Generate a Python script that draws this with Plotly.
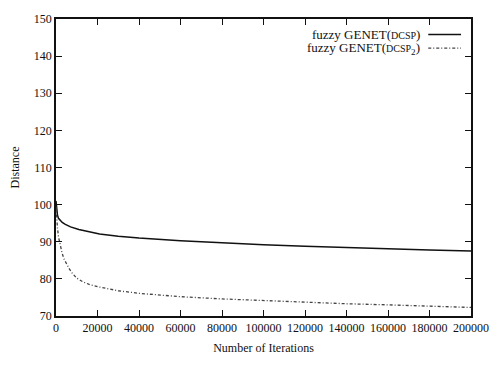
import plotly.graph_objects as go

# Convergence of the average distance over the run
iters_dcsp = [0, 300, 700, 1200, 2000, 3000, 4500, 7000, 11000, 16000, 21000, 30000,
              40000, 60000, 80000, 100000, 120000, 140000, 160000, 180000, 200000]
dist_dcsp = [101, 98.6, 97.2, 96.3, 95.7, 95.2, 94.7, 94.0, 93.3, 92.6, 92.1, 91.5,
             91.0, 90.3, 89.7, 89.2, 88.8, 88.4, 88.1, 87.8, 87.5]

iters_dcsp2 = [0, 300, 700, 1200, 2000, 3000, 4000, 5000, 6500, 8000, 10000, 13000,
               16000, 21000, 30000, 40000, 60000, 80000, 100000, 120000, 140000,
               160000, 180000, 200000]
dist_dcsp2 = [99.5, 96.5, 93.8, 91.3, 88.8, 86.8, 85.2, 84.0, 82.6, 81.4, 80.2, 79.2,
              78.5, 77.8, 76.8, 76.1, 75.2, 74.6, 74.1, 73.7, 73.3, 73.0, 72.6, 72.3]

x_ticks = [0, 20000, 40000, 60000, 80000, 100000, 120000, 140000, 160000, 180000, 200000]
y_ticks = [70, 80, 90, 100, 110, 120, 130, 140, 150]

legend_labels = ["fuzzy GENET(<span style='font-size:10px'>DCSP</span>)",
                 "fuzzy GENET(<span style='font-size:10px'>DCSP</span><sub>2</sub>)"]

FONT = "Liberation Serif, Times New Roman, serif"
INK = "#111111"

fig = go.Figure()
fig.add_trace(go.Scatter(x=iters_dcsp, y=dist_dcsp, mode="lines",
                         line=dict(color=INK, width=1.5), showlegend=False))
fig.add_trace(go.Scatter(x=iters_dcsp2, y=dist_dcsp2, mode="lines",
                         line=dict(color="#444444", width=1.3, dash="3px,2px,1px,2px"),
                         showlegend=False))

# Key in the top-right corner: right-aligned text followed by a line sample
key_rows = [(0.9475, "solid", INK, 1.5), (0.9016, "3px,2px,1px,2px", "#444444", 1.3)]
for label, (yp, dash, col, w) in zip(legend_labels, key_rows):
    fig.add_annotation(xref="paper", yref="paper", x=0.882, y=yp, text=label,
                       showarrow=False, xanchor="right", yanchor="middle",
                       font=dict(family=FONT, size=13, color=INK))
    fig.add_shape(type="line", xref="paper", yref="paper", x0=0.897, x1=0.976,
                  y0=yp, y1=yp, line=dict(color=col, width=w, dash=dash))

axis_common = dict(showline=True, linecolor=INK, linewidth=1.5, mirror="ticks",
                   ticks="inside", ticklen=6, tickcolor=INK, showgrid=False,
                   zeroline=False, tickfont=dict(family=FONT, size=12, color=INK))

fig.update_xaxes(range=[0, 200000], tickvals=x_ticks, tickformat="d",
                 title=dict(text="Number of Iterations", standoff=9,
                            font=dict(family=FONT, size=12, color=INK)),
                 **axis_common)
fig.update_yaxes(range=[70, 150], tickvals=y_ticks,
                 title=dict(text="Distance", standoff=12,
                            font=dict(family=FONT, size=12, color=INK)),
                 **axis_common)

fig.update_layout(width=501, height=365, margin=dict(l=56, r=21, t=12, b=48),
                  font=dict(family=FONT, size=12, color=INK),
                  plot_bgcolor="white", paper_bgcolor="white")

fig.write_html("out.html")
